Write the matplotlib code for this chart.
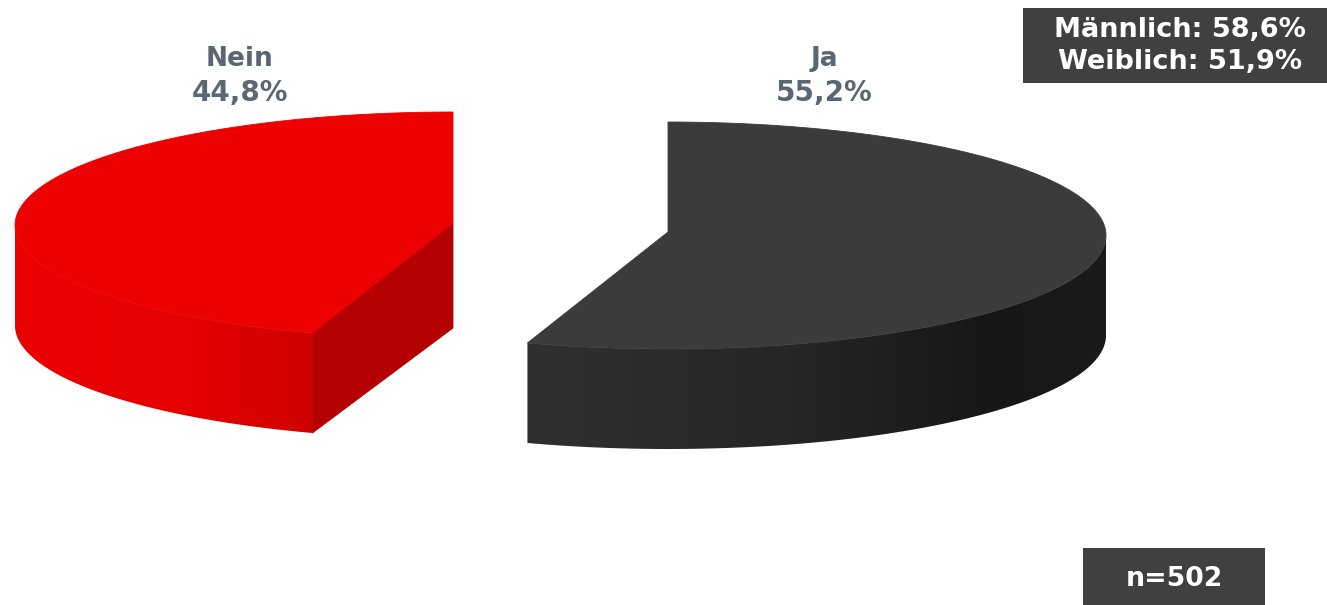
import numpy as np
import matplotlib
matplotlib.use("Agg")
import matplotlib.pyplot as plt
from matplotlib.patches import Polygon, Rectangle
from matplotlib.colors import LinearSegmentedColormap

# Data
categories = ["Nein", "Ja"]
shares = [44.8, 55.2]
share_labels = ["44,8%", "55,2%"]
gender_lines = ["Männlich: 58,6%", "Weiblich: 51,9%"]
sample_label = "n=502"

# Layout (pixel space of the figure)
W, H = 1327, 605
RX, RY, DEPTH = 438, 113.5, 100
FONT = "DejaVu Sans"
TEXT_GREY = "#5A6672"
BOX = "#404040"

fig = plt.figure(figsize=(W / 100, H / 100), dpi=100)
ax = fig.add_axes([0, 0, 1, 1])


def rim(cx, cy, theta):
    """theta: degrees clockwise from 12 o'clock."""
    t = np.radians(theta)
    return cx + RX * np.sin(t), cy - RY * np.cos(t)


def side(cx, cy, t0, t1, cmap, depth=DEPTH, n=200):
    """Outer wall between two angles, shaded smoothly left to right."""
    th = np.linspace(t0, t1, n + 1)
    xs, ys = rim(cx, cy, th)
    pts = list(zip(xs, ys)) + list(zip(xs[::-1], ys[::-1] + depth))
    outline = Polygon(pts, closed=True, fc="none", ec="none", transform=ax.transData)
    ax.add_patch(outline)
    shade = np.linspace(0, 1, 256).reshape(1, -1)
    im = ax.imshow(shade, cmap=cmap, aspect="auto", zorder=2, vmin=0, vmax=1,
                   extent=(xs.min(), xs.max(), ys.max() + depth, ys.min()))
    im.set_clip_path(outline)


def top(cx, cy, ax_y, t0, t1, color):
    th = np.linspace(t0, t1, 300)
    xs, ys = rim(cx, cy, th)
    pts = [(cx, ax_y)] + list(zip(xs, ys))
    ax.add_patch(Polygon(pts, closed=True, fc=color, ec=color, lw=0.6, zorder=4))


red_side = LinearSegmentedColormap.from_list(
    "r", [(0, "#EC0000"), (0.55, "#E60000"), (1, "#D00000")])
dark_side = LinearSegmentedColormap.from_list(
    "d", [(0, "#303030"), (0.45, "#262626"), (0.8, "#171717"), (1, "#1A1A1A")])

# Nein slice: runs counter-clockwise from 12 o'clock
sweep_nein = shares[0] / sum(shares) * 360
cx_n, cy_n, apex_n = 453, 225.5, 223
side(cx_n, cy_n, -sweep_nein, -90, red_side)
ex, ey = rim(cx_n, cy_n, -sweep_nein)
ax.add_patch(Polygon([(cx_n, apex_n), (ex, ey), (ex, ey + DEPTH), (cx_n, apex_n + 105)],
                     closed=True, fc="#B40000", ec="#B40000", lw=0.6, zorder=3))
top(cx_n, cy_n, apex_n, -sweep_nein, 0, "#EC0000")

# Ja slice: runs clockwise from 12 o'clock
sweep_ja = shares[1] / sum(shares) * 360
cx_j, cy_j, apex_j = 668, 235.5, 232
side(cx_j, cy_j, 90, sweep_ja, dark_side)
top(cx_j, cy_j, apex_j, 0, sweep_ja, "#3B3B3B")

# Slice labels
for x, cat, lab in zip([240, 824], categories, share_labels):
    ax.text(x, 59, cat, ha="center", va="center", family=FONT, weight="bold",
            fontsize=19, color=TEXT_GREY)
    ax.text(x, 93, lab, ha="center", va="center", family=FONT, weight="bold",
            fontsize=20, color=TEXT_GREY)

# Boxes
ax.add_patch(Rectangle((1023, 8), 304, 75, fc=BOX, ec="none", zorder=5))
ax.text(1180, 30, gender_lines[0], ha="center", va="center", family=FONT, weight="bold",
        fontsize=19.5, color="white", zorder=6)
ax.text(1180, 62, gender_lines[1], ha="center", va="center", family=FONT, weight="bold",
        fontsize=19.5, color="white", zorder=6)
ax.add_patch(Rectangle((1083, 548), 182, 57, fc=BOX, ec="none", zorder=5))
ax.text(1174, 579, sample_label, ha="center", va="center", family=FONT, weight="bold",
        fontsize=19.3, color="white", zorder=6)

ax.set_xlim(0, W)
ax.set_ylim(H, 0)
ax.axis("off")

fig.savefig("out.png", dpi=100, facecolor="white")
